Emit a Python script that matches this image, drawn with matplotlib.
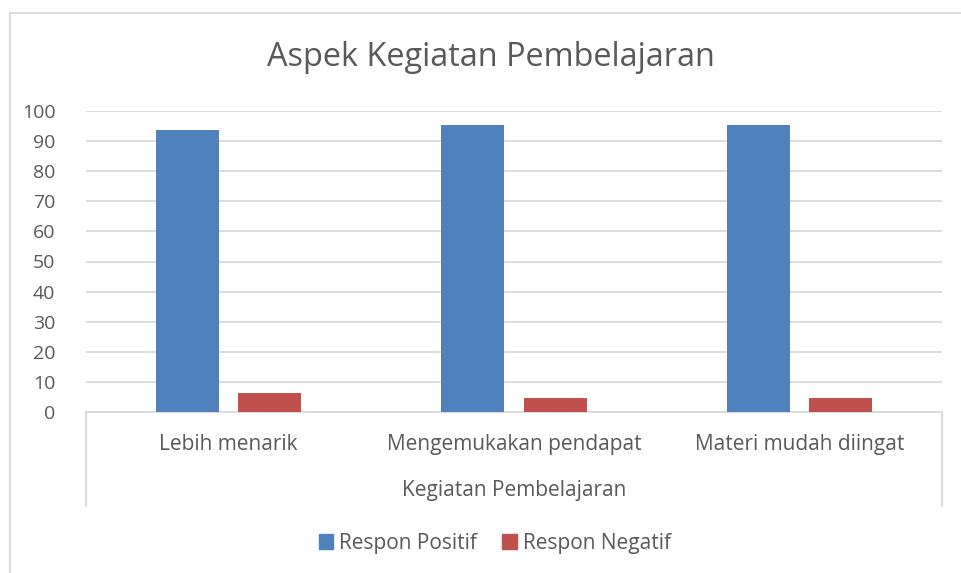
import numpy as np
import matplotlib.pyplot as plt
from matplotlib.lines import Line2D
from matplotlib.patches import Patch

plt.rcParams['font.family'] = ['Open Sans', 'DejaVu Sans']

kategori = ["Lebih menarik", "Mengemukakan pendapat", "Materi mudah diingat"]
respon_positif = [93.75, 95.24, 95.24]
respon_negatif = [6.25, 4.76, 4.76]
y_ticks = np.arange(0, 101, 10)

teks = "#595959"
garis = "#D9D9D9"
biru = "#4F81BD"
merah = "#C0504D"

fig = plt.figure(figsize=(9.61, 5.73), dpi=100)
ax = fig.add_axes([86 / 961, 1 - 412 / 573, (942 - 86) / 961, (412 - 111) / 573])

x = np.arange(len(kategori))
w = 0.221
off = 0.144
ax.bar(x - off, respon_positif, w, color=biru, label="Respon Positif", zorder=3)
ax.bar(x + off, respon_negatif, w, color=merah, label="Respon Negatif", zorder=3)

ax.set_xlim(-0.5, len(kategori) - 0.5)
ax.set_ylim(0, 100)
ax.set_yticks(y_ticks)
ax.set_yticklabels([str(t) for t in y_ticks], fontsize=14, color=teks)
ax.tick_params(axis='y', length=0, pad=22)
ax.set_xticks([])
ax.grid(axis='y', color=garis, linewidth=1.3, zorder=0)
for s in ax.spines.values():
    s.set_visible(False)

# sumbu kategori bertingkat
tr = ax.transAxes
ax.add_line(Line2D([0, 1], [0, 0], transform=tr, color=garis, lw=1.3, clip_on=False))
ax.add_line(Line2D([0, 0], [0, -0.312], transform=tr, color=garis, lw=1.3, clip_on=False))
ax.add_line(Line2D([1, 1], [0, -0.312], transform=tr, color=garis, lw=1.3, clip_on=False))
for i, k in enumerate(kategori):
    ax.text(i, -0.107, k, transform=ax.get_xaxis_transform(), ha='center', va='center',
            fontsize=15, color=teks)
ax.text(0.5, -0.262, "Kegiatan Pembelajaran", transform=tr, ha='center', va='center',
        fontsize=15, color=teks)

fig.text(0.511, 1 - 57 / 573, "Aspek Kegiatan Pembelajaran", ha='center', va='center',
         fontsize=23.4, color=teks)

# bingkai luar
fig.add_artist(Line2D([10 / 961, 1], [1 - 13 / 573] * 2, transform=fig.transFigure, color=garis, lw=1.3))
fig.add_artist(Line2D([10 / 961] * 2, [0, 1 - 13 / 573], transform=fig.transFigure, color=garis, lw=1.3))

handles = [Patch(color=biru, label="Respon Positif"), Patch(color=merah, label="Respon Negatif")]
fig.legend(handles=handles, loc='center', bbox_to_anchor=(0.515, 1 - 543 / 573), ncol=2,
           frameon=False, fontsize=15, labelcolor=teks, handlelength=0.7, handleheight=0.7,
           handletextpad=0.3, columnspacing=1.2)

fig.savefig("out.png", dpi=100)
